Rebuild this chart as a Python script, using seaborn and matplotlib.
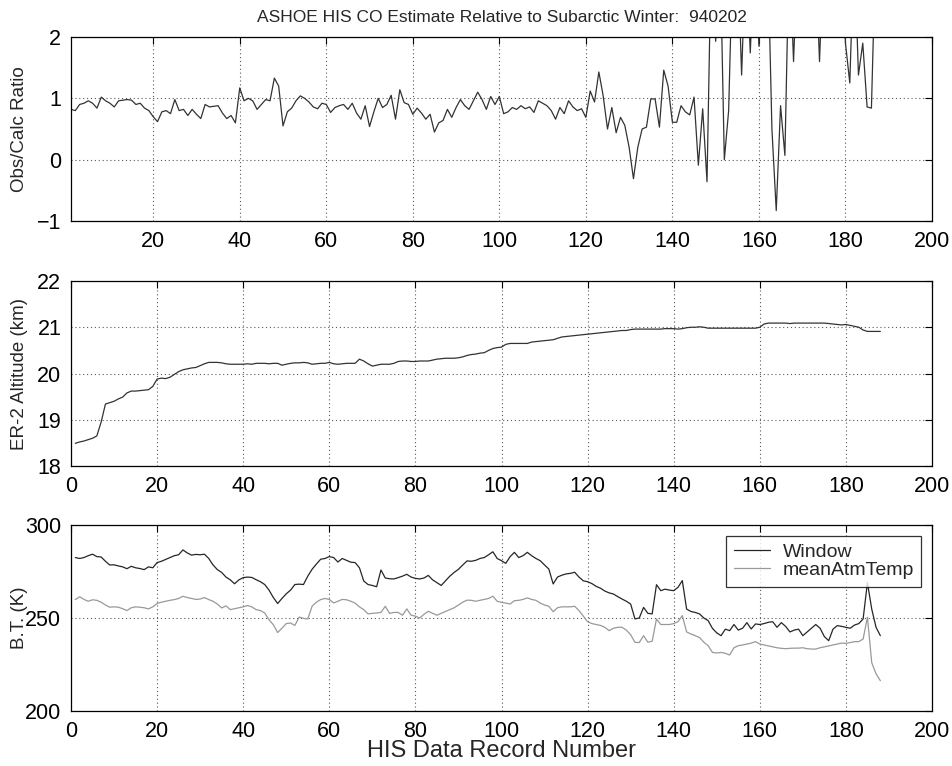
import matplotlib
matplotlib.use("Agg")
import matplotlib.pyplot as plt
import seaborn as sns
import pandas as pd

# ---------------- data ----------------
ratio_values = [
    0.82, 0.80, 0.90, 0.92, 0.96, 0.92, 0.84, 1.02, 0.96, 0.92,
    0.86, 0.96, 0.97, 0.98, 0.97, 0.90, 0.92, 0.84, 0.80, 0.70,
    0.62, 0.78, 0.80, 0.75, 0.98, 0.80, 0.82, 0.72, 0.82, 0.74,
    0.67, 0.90, 0.86, 0.87, 0.88, 0.76, 0.67, 0.72, 0.60, 1.17,
    0.96, 1.00, 0.96, 0.82, 0.90, 0.98, 0.96, 1.33, 1.20, 0.55,
    0.78, 0.84, 0.96, 1.04, 1.00, 0.94, 0.86, 0.83, 0.92, 0.90,
    0.77, 0.85, 0.88, 0.90, 0.82, 0.92, 0.76, 0.66, 0.88, 0.54,
    0.78, 1.00, 0.85, 0.90, 1.05, 0.66, 1.14, 0.93, 0.90, 0.74,
    0.84, 0.76, 0.66, 0.74, 0.45, 0.60, 0.64, 0.82, 0.69, 0.85,
    0.98, 0.88, 0.82, 0.96, 1.10, 0.98, 0.82, 1.03, 0.90, 1.03,
    0.75, 0.78, 0.85, 0.82, 0.88, 0.83, 0.86, 0.77, 0.96, 0.92,
    0.88, 0.80, 0.66, 0.85, 0.75, 0.96, 0.86, 0.80, 0.83, 0.69,
    1.12, 0.94, 1.43, 1.04, 0.50, 0.85, 0.44, 0.69, 0.56, 0.20,
    -0.31, 0.20, 0.50, 0.53, 0.99, 0.99, 0.53, 1.46, 1.20, 0.61,
    0.61, 0.88, 0.78, 0.73, 1.02, -0.09, 0.83, -0.36, 3.50, 1.93,
    3.50, 0.00, 0.80, 3.50, 3.50, 1.38, 3.50, 1.74, 3.50, 1.85,
    3.50, 3.50, 0.50, -0.83, 0.88, 0.07, 3.50, 1.60, 3.50, 3.50,
    3.50, 3.50, 3.50, 1.60, 3.50, 3.50, 3.50, 3.50, 3.50, 1.90,
    1.25, 3.50, 1.38, 1.90, 0.86, 0.84, 3.50,
]
ratio_records = list(range(1, len(ratio_values) + 1))

altitude_km = [
    18.49, 18.52, 18.54, 18.57, 18.60, 18.65, 18.95, 19.34, 19.37, 19.40,
    19.45, 19.49, 19.58, 19.62, 19.62, 19.63, 19.64, 19.65, 19.72, 19.88,
    19.90, 19.89, 19.92, 19.98, 20.04, 20.08, 20.10, 20.12, 20.13, 20.17,
    20.21, 20.24, 20.24, 20.24, 20.23, 20.21, 20.20, 20.20, 20.20, 20.20,
    20.21, 20.20, 20.22, 20.22, 20.22, 20.21, 20.22, 20.22, 20.18, 20.20,
    20.22, 20.23, 20.23, 20.24, 20.23, 20.20, 20.21, 20.22, 20.22, 20.24,
    20.21, 20.20, 20.21, 20.22, 20.22, 20.22, 20.31, 20.27, 20.21, 20.16,
    20.18, 20.20, 20.20, 20.20, 20.22, 20.26, 20.27, 20.27, 20.26, 20.26,
    20.27, 20.27, 20.27, 20.29, 20.31, 20.32, 20.33, 20.33, 20.33, 20.34,
    20.36, 20.39, 20.41, 20.42, 20.44, 20.45, 20.50, 20.54, 20.56, 20.57,
    20.63, 20.65, 20.65, 20.65, 20.65, 20.65, 20.68, 20.69, 20.70, 20.71,
    20.72, 20.73, 20.76, 20.79, 20.80, 20.81, 20.82, 20.83, 20.84, 20.85,
    20.86, 20.87, 20.88, 20.89, 20.90, 20.91, 20.92, 20.93, 20.93, 20.95,
    20.96, 20.96, 20.96, 20.96, 20.96, 20.96, 20.96, 20.97, 20.97, 20.97,
    20.96, 20.97, 20.99, 21.00, 21.00, 21.01, 21.00, 20.98, 20.98, 20.98,
    20.98, 20.98, 20.98, 20.98, 20.98, 20.98, 20.98, 20.98, 20.98, 21.00,
    21.07, 21.09, 21.09, 21.09, 21.09, 21.09, 21.08, 21.09, 21.09, 21.09,
    21.09, 21.09, 21.09, 21.09, 21.09, 21.08, 21.07, 21.06, 21.05, 21.06,
    21.04, 21.02, 21.00, 20.94, 20.91, 20.91, 20.91, 20.91,
]
altitude_records = list(range(1, len(altitude_km) + 1))

window_bt = [
    282.5, 282.0, 282.5, 283.5, 284.3, 283.0, 282.8, 280.5, 278.5, 278.6,
    278.0, 277.5, 276.5, 277.8, 277.0, 276.6, 276.0, 277.5, 277.0, 279.8,
    280.5, 281.5, 282.5, 283.5, 284.0, 286.6, 285.0, 283.8, 284.2, 284.0,
    284.3, 282.0, 278.5, 276.0, 274.5, 272.0, 270.5, 268.4, 270.5, 271.7,
    272.0, 271.8, 270.6, 269.5, 268.0, 265.0, 261.0, 257.8, 260.5, 263.0,
    265.0, 268.0, 268.2, 268.0, 272.5, 276.2, 279.0, 281.6, 282.0, 283.0,
    282.5, 280.1, 282.0, 281.0, 280.0, 279.8, 277.0, 269.9, 268.0, 267.5,
    266.8, 275.8, 271.5, 271.1, 271.0, 271.7, 272.5, 273.5, 272.0, 271.3,
    271.0, 271.5, 272.9, 270.5, 269.0, 267.5, 270.0, 272.5, 274.5, 276.2,
    278.5, 280.7, 280.5, 281.0, 282.0, 282.5, 284.0, 285.6, 282.0, 280.8,
    279.4, 283.0, 285.3, 282.5, 283.5, 285.3, 283.5, 282.0, 280.8, 278.5,
    276.3, 268.3, 272.0, 273.0, 273.7, 274.0, 274.6, 272.0, 270.0, 269.5,
    268.5, 267.0, 266.0, 264.5, 263.5, 262.9, 261.5, 260.2, 259.0, 257.5,
    249.5, 250.0, 255.7, 252.5, 252.2, 267.9, 264.7, 265.5, 265.0, 264.7,
    266.5, 270.1, 254.8, 253.5, 253.0, 252.2, 250.0, 248.6, 244.4, 242.0,
    240.5, 244.0, 243.2, 246.5, 243.5, 244.5, 247.5, 244.1, 246.8, 246.5,
    247.0, 247.7, 248.0, 245.0, 247.5, 245.5, 242.5, 243.5, 244.0, 240.5,
    242.5, 244.5, 246.5, 244.5, 240.0, 237.8, 244.0, 245.9, 245.5, 245.0,
    244.5, 246.2, 247.0, 249.5, 269.0, 254.8, 245.0, 240.5,
]
mean_atm_temp = [
    259.9, 261.4, 260.0, 259.0, 259.8, 259.5, 258.5, 257.0, 255.8, 256.0,
    255.8, 255.0, 254.0, 255.5, 256.0, 255.8, 255.5, 254.9, 256.0, 257.8,
    258.5, 259.0, 259.5, 259.9, 260.5, 261.7, 261.0, 260.5, 260.0, 260.2,
    261.0, 259.9, 259.0, 257.5, 255.4, 256.5, 254.5, 255.0, 255.5, 256.0,
    256.7, 256.0, 254.5, 254.0, 252.7, 249.0, 246.4, 242.2, 244.5, 247.0,
    247.3, 246.0, 250.5, 249.8, 249.5, 256.3, 258.5, 259.9, 260.5, 260.0,
    258.1, 259.0, 260.0, 259.8, 259.0, 258.0, 256.0, 254.5, 252.2, 252.5,
    252.7, 253.0, 256.3, 252.5, 253.0, 253.0, 251.5, 254.9, 251.5, 251.0,
    250.0, 252.0, 253.6, 252.5, 251.5, 252.5, 253.5, 254.5, 255.5, 257.0,
    258.5, 259.6, 259.5, 259.0, 259.5, 260.0, 260.5, 261.7, 259.0, 258.4,
    258.0, 257.5, 259.3, 259.5, 260.0, 260.8, 260.0, 259.5, 258.0, 257.0,
    256.3, 253.4, 255.5, 256.0, 256.0, 256.0, 256.3, 254.0, 251.0, 248.0,
    247.0, 246.5, 246.0, 245.0, 243.2, 244.5, 245.0, 245.0, 243.5, 241.0,
    236.9, 236.8, 240.5, 237.0, 237.5, 249.5, 246.5, 246.5, 246.5, 247.0,
    248.0, 251.3, 242.5, 241.4, 240.5, 239.5, 237.0, 235.1, 231.5, 231.2,
    231.5, 231.0, 230.1, 234.0, 235.1, 235.5, 236.0, 236.5, 237.3, 236.0,
    235.5, 235.0, 234.5, 234.0, 233.7, 233.5, 233.7, 233.8, 233.8, 234.0,
    233.5, 233.3, 233.3, 234.0, 234.5, 235.0, 235.5, 236.0, 236.5, 236.4,
    236.8, 237.3, 237.3, 238.7, 250.4, 226.0, 220.0, 216.3,
]
bt_records = list(range(1, len(window_bt) + 1))

series_names = ["Window", "meanAtmTemp"]
title_text = "ASHOE HIS CO Estimate Relative to Subarctic Winter:  940202"
x_ticks_top = [20, 40, 60, 80, 100, 120, 140, 160, 180, 200]
x_ticks = [0, 20, 40, 60, 80, 100, 120, 140, 160, 180, 200]

# ---------------- style ----------------
sns.set_style("white")
plt.rcParams["font.family"] = ["Liberation Sans", "DejaVu Sans"]

fig = plt.figure(figsize=(9.53, 7.66), dpi=100)
fig.patch.set_facecolor("white")

W, H = 953.0, 766.0
def box(left, top, right, bottom):
    return [left / W, 1 - bottom / H, (right - left) / W, (bottom - top) / H]

ax1 = fig.add_axes(box(71, 37, 932, 221))
ax2 = fig.add_axes(box(71, 281, 932, 466))
ax3 = fig.add_axes(box(71, 525, 932, 711))

grid_kw = dict(color="0.35", linestyle=(0, (1, 2.5)), linewidth=0.8)
YLABEL_X = -0.050

def style_axis(ax):
    for s in ax.spines.values():
        s.set_color("black")
        s.set_linewidth(0.9)
    ax.tick_params(direction="in", length=5, width=0.8, top=True, right=True,
                   labelsize=15.5, pad=7, colors="black")
    ax.grid(True, **grid_kw)
    ax.set_axisbelow(True)
    ax.yaxis.set_label_coords(YLABEL_X, 0.5)

# Top panel
df1 = pd.DataFrame({"record": ratio_records, "ratio": ratio_values})
sns.lineplot(data=df1, x="record", y="ratio", ax=ax1, color="0.2", linewidth=0.9)
ax1.set_xlim(1, 200)
ax1.set_ylim(-1, 2)
ax1.set_xticks(x_ticks_top)
ax1.set_yticks([-1, 0, 1, 2])
ax1.set_xlabel("")
ax1.set_ylabel("Obs/Calc Ratio", fontsize=13.5)
ax1.set_title(title_text, fontsize=12.5, pad=11)
style_axis(ax1)

# Middle panel
df2 = pd.DataFrame({"record": altitude_records, "alt": altitude_km})
sns.lineplot(data=df2, x="record", y="alt", ax=ax2, color="0.2", linewidth=0.9)
ax2.set_xlim(0, 200)
ax2.set_ylim(18, 22)
ax2.set_xticks(x_ticks)
ax2.set_yticks([18, 19, 20, 21, 22])
ax2.set_xlabel("")
ax2.set_ylabel("ER-2 Altitude (km)", fontsize=13.5)
style_axis(ax2)

# Bottom panel
df3 = pd.DataFrame({
    "record": bt_records * 2,
    "bt": window_bt + mean_atm_temp,
    "series": [series_names[0]] * len(window_bt) + [series_names[1]] * len(mean_atm_temp),
})
sns.lineplot(data=df3, x="record", y="bt", hue="series", ax=ax3,
             palette={series_names[0]: "0.15", series_names[1]: "0.6"},
             linewidth=0.9)
ax3.set_xlim(0, 200)
ax3.set_ylim(200, 300)
ax3.set_xticks(x_ticks)
ax3.set_yticks([200, 250, 300])
ax3.set_xlabel("HIS Data Record Number", fontsize=17, labelpad=-1)
ax3.set_ylabel("B.T. (K)", fontsize=13.5)
style_axis(ax3)
leg = ax3.legend(loc="upper right", fontsize=14, frameon=True, fancybox=False,
                 edgecolor="black", borderaxespad=0.55, handlelength=1.9,
                 handletextpad=0.62, borderpad=0.38, labelspacing=0.05)
leg.get_frame().set_linewidth(0.9)
leg.set_title(None)

fig.savefig("out.png", dpi=100, facecolor="white")
